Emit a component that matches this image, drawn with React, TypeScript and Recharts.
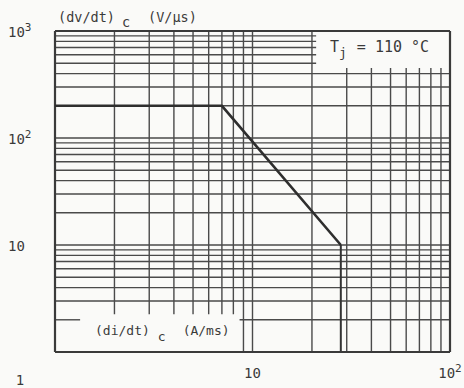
import React from "react";
import { LineChart, Line, XAxis, YAxis, ReferenceLine } from "recharts";

// curve (di/dt)c vs (dv/dt)c
const curveX = [1, 7, 28];
const curveY = [200, 200, 10];
// vertical limit below the curve end
const limitX = 28;
const limitY = [1, 10];

// axis ticks
const xTicks = [1, 10, 100];
const xTickBase = ["1", "10", "10"];
const xTickExp = ["", "", "2"];
const yTicks = [10, 100, 1000];
const yTickBase = ["10", "10", "10"];
const yTickExp = ["", "2", "3"];

// grid lines (data values)
const xShort = [2, 3, 4, 5, 6, 7, 8]; // stop above the x-axis caption
const xFull = [9, 10, 20];
const xUpperCut = [30, 40, 50, 60, 70, 80, 90]; // stop below the Tj caption
const yFull = [3, 4, 5, 6, 7, 8, 9, 10, 20, 30, 40, 50, 60, 70, 80, 90, 100, 200, 300, 400];
const yLeftOnly = [500, 600, 700, 800, 900];

const data = curveX.map((x, i) => ({ x, y: curveY[i] }));

const FONT = "'DejaVu Sans Mono', 'Liberation Mono', monospace";
const INK = "#3a3a3a";
const GRID = "#4a4a4a";
const GW = 1.4;

const XTick = (props: any) => {
  const i = xTicks.indexOf(props.payload.value);
  const dx = i === 0 ? -35 : 0;
  const by = i === 0 ? 385 : 378;
  return (
    <text x={props.x + dx} y={by} textAnchor="middle" fontFamily={FONT} fontSize={14} fill={INK}>
      {xTickBase[i]}
      {xTickExp[i] && (
        <tspan dy={-6} fontSize={11}>
          {xTickExp[i]}
        </tspan>
      )}
    </text>
  );
};

const YTick = (props: any) => {
  const i = yTicks.indexOf(props.payload.value);
  return (
    <text x={8} y={props.y + 6} textAnchor="start" fontFamily={FONT} fontSize={14} fill={INK}>
      {yTickBase[i]}
      {yTickExp[i] && (
        <tspan dy={-6} fontSize={11}>
          {yTickExp[i]}
        </tspan>
      )}
    </text>
  );
};

export default function App() {
  return (
    <div style={{ position: "absolute", left: 0, top: 0, width: 464, height: 388, background: "#fafaf8" }}>
      <LineChart width={464} height={388} data={data} margin={{ top: 31, right: 14, left: 0, bottom: 0 }}>
        <XAxis
          dataKey="x"
          type="number"
          scale="log"
          domain={[1, 100]}
          ticks={xTicks}
          allowDataOverflow
          axisLine={false}
          tickLine={false}
          height={36}
          tick={<XTick />}
        />
        <YAxis
          type="number"
          scale="log"
          domain={[1, 1000]}
          ticks={yTicks}
          allowDataOverflow
          axisLine={false}
          tickLine={false}
          width={55}
          tick={<YTick />}
        />
        {yFull.map((v) => (
          <ReferenceLine key={"yf" + v} y={v} stroke={GRID} strokeWidth={GW} />
        ))}
        {yLeftOnly.map((v) => (
          <ReferenceLine key={"yl" + v} segment={[{ x: 1, y: v }, { x: 21, y: v }]} stroke={GRID} strokeWidth={GW} />
        ))}
        <ReferenceLine segment={[{ x: 1, y: 2 }, { x: 1.34, y: 2 }]} stroke={GRID} strokeWidth={GW} />
        <ReferenceLine segment={[{ x: 8.6, y: 2 }, { x: 100, y: 2 }]} stroke={GRID} strokeWidth={GW} />
        {xFull.map((v) => (
          <ReferenceLine key={"xf" + v} x={v} stroke={GRID} strokeWidth={GW} />
        ))}
        {xShort.map((v) => (
          <ReferenceLine key={"xs" + v} segment={[{ x: v, y: 2.25 }, { x: v, y: 1000 }]} stroke={GRID} strokeWidth={GW} />
        ))}
        {xUpperCut.map((v) => (
          <ReferenceLine key={"xu" + v} segment={[{ x: v, y: 1 }, { x: v, y: 450 }]} stroke={GRID} strokeWidth={GW} />
        ))}
        <ReferenceLine
          segment={[{ x: limitX, y: limitY[0] }, { x: limitX, y: limitY[1] }]}
          stroke="#333"
          strokeWidth={2}
        />
        {/* frame */}
        <ReferenceLine x={1} stroke="#3a3a3a" strokeWidth={2.2} />
        <ReferenceLine x={100} stroke="#3a3a3a" strokeWidth={2.2} />
        <ReferenceLine y={1} stroke="#3a3a3a" strokeWidth={2.2} />
        <ReferenceLine y={1000} stroke="#3a3a3a" strokeWidth={2.2} />
        <Line
          dataKey="y"
          type="linear"
          stroke="#2e2e2e"
          strokeWidth={2.6}
          dot={false}
          isAnimationActive={false}
        />
        <text x={58} y={22} fontFamily={FONT} fontSize={13.5} fill={INK}>
          (dv/dt)
          <tspan dx={7} dy={5}>c</tspan>
          <tspan dx={18} dy={-5}>(V/μs)</tspan>
        </text>
        <text x={95} y={335} fontFamily={FONT} fontSize={13} fill={INK}>
          (di/dt)
          <tspan dx={8} dy={6}>c</tspan>
          <tspan dx={17} dy={-6}>(A/ms)</tspan>
        </text>
        <text x={330} y={52} fontFamily={FONT} fontSize={15} fill={INK}>
          T
          <tspan dy={5} fontSize={13}>j</tspan>
          <tspan dx={10} dy={-5}>= 110 °C</tspan>
        </text>
      </LineChart>
    </div>
  );
}
